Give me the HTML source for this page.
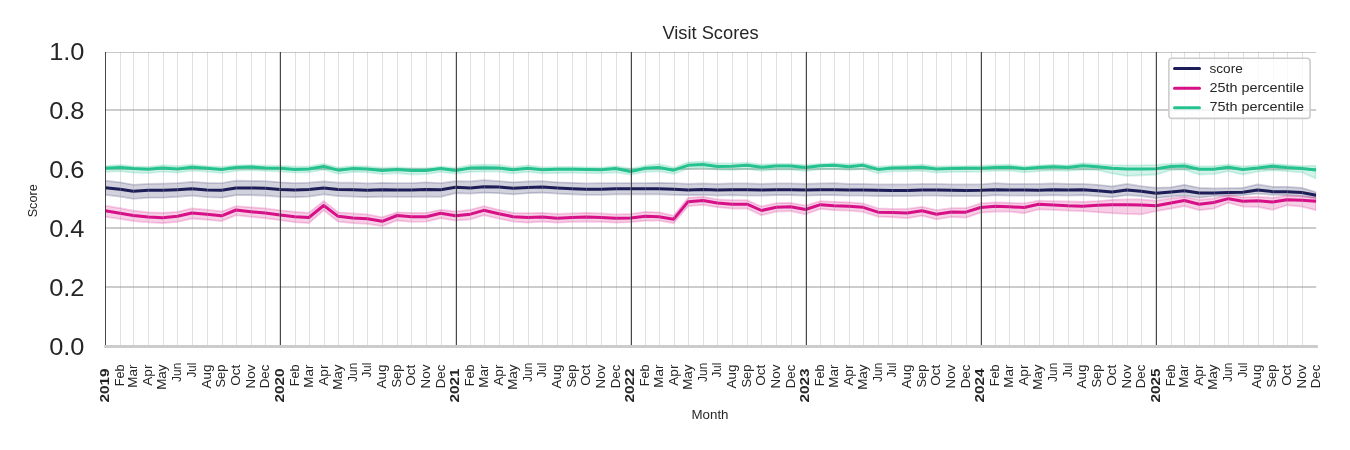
<!DOCTYPE html>
<html><head><meta charset="utf-8"><title>Visit Scores</title>
<style>html,body{margin:0;padding:0;background:#fff;width:1350px;height:450px;overflow:hidden}svg{display:block;will-change:transform}text{font-family:"Liberation Sans",sans-serif;fill:#262626}</style>
</head><body>
<svg width="1350" height="450" viewBox="0 0 1350 450">
<rect width="1350" height="450" fill="#fff"/>
<line x1="105.08" x2="1316.19" y1="287" y2="287" stroke="#cccccc" stroke-width="1.8"/>
<line x1="105.08" x2="1316.19" y1="228" y2="228" stroke="#cccccc" stroke-width="1.8"/>
<line x1="105.08" x2="1316.19" y1="169" y2="169" stroke="#cccccc" stroke-width="1.8"/>
<line x1="105.08" x2="1316.19" y1="110" y2="110" stroke="#cccccc" stroke-width="1.8"/>
<line x1="105.08" x2="1316.19" y1="52.5" y2="52.5" stroke="#c8c8c8" stroke-width="1"/>
<defs><clipPath id="ax"><rect x="105.08" y="51.55" width="1211.11" height="294.4"/></clipPath></defs>
<g clip-path="url(#ax)">
<polygon points="105.08,180.63 119.94,182.3 133.37,184.8 148.23,183.97 162.61,183.63 177.48,183.13 191.86,181.97 206.72,182.8 221.59,183.13 235.97,180.63 250.83,180.97 265.22,181.13 280.08,182.3 294.94,183.13 308.85,182.63 323.71,181.47 338.1,182.63 352.96,182.63 367.34,183.47 382.21,182.8 397.07,183.13 411.45,183.13 426.32,182.3 440.7,183.13 455.56,181.13 470.43,181.47 483.85,180.13 498.71,181.13 513.1,182.3 527.96,181.47 542.34,181.13 557.21,182.3 572.07,182.8 586.45,183.47 601.32,183.13 615.7,183.13 630.56,183.13 645.43,183.13 658.85,182.8 673.71,183.13 688.1,183.97 702.96,183.47 717.35,183.97 732.21,183.47 747.07,183.47 761.46,183.97 776.32,183.47 790.7,183.47 805.57,183.97 820.43,183.47 833.85,183.13 848.72,183.97 863.1,183.97 877.96,184.47 892.35,184.47 907.21,184.47 922.07,183.97 936.46,183.97 951.32,184.47 965.7,184.47 980.57,184.47 995.43,183.13 1009.33,183.97 1024.2,183.97 1038.58,183.97 1053.44,183.47 1067.83,183.97 1082.69,183.97 1097.55,184.8 1111.94,186.47 1126.8,183.97 1141.18,186.13 1156.05,187.8 1170.91,187.3 1184.34,184.8 1199.2,187.8 1213.58,188.47 1228.45,188.13 1242.83,187.8 1257.69,184.47 1272.56,186.8 1286.94,186.8 1301.8,187.8 1316.19,192.3 1316.19,198.53 1301.8,196.03 1286.94,195.2 1272.56,194.87 1257.69,193.53 1242.83,195.2 1228.45,195.53 1213.58,196.03 1199.2,197.7 1184.34,195.53 1170.91,196.53 1156.05,198.2 1141.18,196.03 1126.8,195.2 1111.94,197.2 1097.55,196.03 1082.69,195.2 1067.83,195.53 1053.44,195.2 1038.58,195.53 1024.2,195.53 1009.33,195.53 995.43,195.2 980.57,196.03 965.7,196.03 951.32,196.03 936.46,195.53 922.07,195.53 907.21,196.03 892.35,196.03 877.96,196.03 863.1,195.53 848.72,195.53 833.85,195.2 820.43,195.2 805.57,195.53 790.7,195.2 776.32,195.2 761.46,195.53 747.07,195.53 732.21,195.2 717.35,195.53 702.96,194.87 688.1,195.2 673.71,194.87 658.85,194.37 645.43,194.37 630.56,194.37 615.7,194.37 601.32,194.87 586.45,194.87 572.07,194.37 557.21,193.53 542.34,192.7 527.96,193.2 513.1,194.37 498.71,193.2 483.85,192.7 470.43,193.53 455.56,193.2 440.7,196.87 426.32,196.53 411.45,196.87 397.07,196.87 382.21,196.53 367.34,197.2 352.96,196.53 338.1,196.03 323.71,194.37 308.85,196.53 294.94,197.2 280.08,196.87 265.22,195.53 250.83,195.2 235.97,195.2 221.59,197.7 206.72,197.03 191.86,195.53 177.48,196.87 162.61,197.7 148.23,197.7 133.37,198.87 119.94,196.53 105.08,194.87" fill="#1d1d58" fill-opacity="0.2" stroke="#1d1d58" stroke-opacity="0.2" stroke-width="1.8"/>
<polygon points="105.08,205.63 119.94,208.13 133.37,210.63 148.23,212.3 162.61,212.8 177.48,211.8 191.86,208.47 206.72,209.63 221.59,211.47 235.97,206.13 250.83,207.3 265.22,208.47 280.08,210.3 294.94,211.8 308.85,212.8 323.71,201.13 338.1,212.3 352.96,213.47 367.34,214.47 382.21,217.3 397.07,212.3 411.45,212.8 426.32,212.8 440.7,209.8 455.56,211.47 470.43,209.8 483.85,206.13 498.71,209.8 513.1,212.8 527.96,213.13 542.34,212.8 557.21,213.97 572.07,213.47 586.45,212.8 601.32,213.47 615.7,214.47 630.56,213.97 645.43,211.8 658.85,212.3 673.71,215.63 688.1,197.8 702.96,196.8 717.35,199.47 732.21,200.13 747.07,200.13 761.46,206.47 776.32,203.13 790.7,202.8 805.57,205.63 820.43,201.13 833.85,201.8 848.72,202.3 863.1,203.47 877.96,208.47 892.35,208.97 907.21,208.97 922.07,206.8 936.46,210.13 951.32,208.13 965.7,208.13 980.57,203.47 995.43,202.3 1009.33,202.8 1024.2,203.47 1038.58,200.63 1053.44,201.13 1067.83,201.47 1082.69,201.8 1097.55,201.13 1111.94,199.8 1126.8,199.47 1141.18,199.47 1156.05,200.63 1170.91,198.47 1184.34,196.8 1199.2,199.8 1213.58,198.47 1228.45,195.13 1242.83,197.3 1257.69,196.8 1272.56,197.8 1286.94,195.63 1301.8,196.47 1316.19,197.3 1316.19,210.2 1301.8,206.53 1286.94,205.2 1272.56,209.87 1257.69,206.87 1242.83,206.53 1228.45,202.7 1213.58,208.53 1199.2,210.2 1184.34,206.03 1170.91,208.53 1156.05,211.03 1141.18,214.37 1126.8,213.87 1111.94,213.2 1097.55,212.2 1082.69,211.03 1067.83,210.53 1053.44,209.87 1038.58,209.37 1024.2,213.2 1009.33,211.53 995.43,211.53 980.57,212.7 965.7,217.7 951.32,216.87 936.46,219.37 922.07,215.7 907.21,218.2 892.35,217.2 877.96,216.53 863.1,211.87 848.72,210.53 833.85,210.2 820.43,208.87 805.57,214.37 790.7,211.03 776.32,211.53 761.46,215.2 747.07,208.53 732.21,208.53 717.35,207.2 702.96,204.87 688.1,206.03 673.71,223.2 658.85,220.53 645.43,220.7 630.56,222.2 615.7,222.7 601.32,221.87 586.45,221.53 572.07,221.87 557.21,222.7 542.34,221.53 527.96,222.7 513.1,221.53 498.71,218.53 483.85,215.2 470.43,219.37 455.56,220.53 440.7,218.2 426.32,221.53 411.45,221.87 397.07,220.53 382.21,226.03 367.34,223.87 352.96,223.2 338.1,221.53 323.71,210.2 308.85,223.2 294.94,222.2 280.08,220.2 265.22,218.2 250.83,216.87 235.97,215.2 221.59,221.03 206.72,219.7 191.86,218.53 177.48,221.87 162.61,223.2 148.23,222.37 133.37,221.03 119.94,218.87 105.08,216.87" fill="#d81087" fill-opacity="0.2" stroke="#d81087" stroke-opacity="0.2" stroke-width="1.8"/>
<polygon points="105.08,166.07 119.94,164.96 133.37,166.44 148.23,166.81 162.61,165.33 177.48,166.07 191.86,164.74 206.72,166.07 221.59,166.81 235.97,165.33 250.83,164.96 265.22,165.7 280.08,165.7 294.94,166.77 308.85,166.4 323.71,163.81 338.1,167.51 352.96,166.03 367.34,166.4 382.21,167.89 397.07,167.14 411.45,168.26 426.32,168.26 440.7,166.4 455.56,167.89 470.43,165.14 483.85,164.55 498.71,164.92 513.1,167.14 527.96,165.29 542.34,167.14 557.21,167 572.07,166.81 586.45,167.18 601.32,167.55 615.7,166.07 630.56,168.66 645.43,165.66 658.85,164.18 673.71,167.51 688.1,162.33 702.96,161.59 717.35,163.44 732.21,163.44 747.07,162.7 761.46,164.55 776.32,163.81 790.7,163.81 805.57,164.92 820.43,163.81 833.85,163.22 848.72,164.18 863.1,163.07 877.96,166.77 892.35,165.66 907.21,165.29 922.07,164.55 936.46,166.4 951.32,166.03 965.7,166.03 980.57,165.66 995.43,164.92 1009.33,164.7 1024.2,166.4 1038.58,165.29 1053.44,164.55 1067.83,165.29 1082.69,163.07 1097.55,164.18 1111.94,165.29 1126.8,165.29 1141.18,165.29 1156.05,164.92 1170.91,163.81 1184.34,163.22 1199.2,166.4 1213.58,166.03 1228.45,164.55 1242.83,166.4 1257.69,165.29 1272.56,163.81 1286.94,164.92 1301.8,166.03 1316.19,165.66 1316.19,178.57 1301.8,172.27 1286.94,171.16 1272.56,170.27 1257.69,171.53 1242.83,174.49 1228.45,171.16 1213.58,174.12 1199.2,174.49 1184.34,169.53 1170.91,170.05 1156.05,174.49 1141.18,175.23 1126.8,175.97 1111.94,173.38 1097.55,170.05 1082.69,169.68 1067.83,170.79 1053.44,170.42 1038.58,171.16 1024.2,172.27 1009.33,170.57 995.43,170.79 980.57,171.53 965.7,171.9 951.32,171.9 936.46,172.64 922.07,170.79 907.21,171.31 892.35,171.31 877.96,173.01 863.1,168.94 848.72,170.05 833.85,168.79 820.43,169.31 805.57,171.16 790.7,169.68 776.32,169.68 761.46,170.79 747.07,168.94 732.21,170.05 717.35,169.68 702.96,167.83 688.1,168.57 673.71,173.75 658.85,171.31 645.43,171.9 630.56,174.53 615.7,172.31 601.32,173.42 586.45,173.05 572.07,172.68 557.21,173.01 542.34,173.38 527.96,171.75 513.1,173.38 498.71,171.53 483.85,171.53 470.43,171.9 455.56,173.75 440.7,171.9 426.32,174.12 411.45,174.49 397.07,173.01 382.21,174.12 367.34,172.27 352.96,171.9 338.1,173.75 323.71,169.68 308.85,172.27 294.94,172.64 280.08,171.57 265.22,170.83 250.83,170.09 235.97,170.83 221.59,173.05 206.72,171.57 191.86,170.6 177.48,172.68 162.61,171.57 148.23,173.05 133.37,172.68 119.94,171.2 105.08,171.94" fill="#23c28f" fill-opacity="0.2" stroke="#23c28f" stroke-opacity="0.2" stroke-width="1.8"/>
<polyline points="105.08,187.83 119.94,189.17 133.37,191.17 148.23,190.33 162.61,190.33 177.48,189.67 191.86,188.83 206.72,190 221.59,190.33 235.97,188 250.83,188 265.22,188.33 280.08,189.5 294.94,190 308.85,189.5 323.71,188 338.1,189.5 352.96,189.67 367.34,190.33 382.21,189.67 397.07,190 411.45,190 426.32,189.5 440.7,189.67 455.56,187.17 470.43,188 483.85,186.67 498.71,187 513.1,188.33 527.96,187.5 542.34,187 557.21,188 572.07,188.67 586.45,189.17 601.32,189.17 615.7,188.83 630.56,188.67 645.43,188.67 658.85,188.67 673.71,189.17 688.1,190 702.96,189.5 717.35,190 732.21,189.67 747.07,189.67 761.46,190 776.32,189.67 790.7,189.67 805.57,190 820.43,189.67 833.85,189.67 848.72,190 863.1,190 877.96,190.33 892.35,190.5 907.21,190.5 922.07,190 936.46,190 951.32,190.33 965.7,190.5 980.57,190.33 995.43,189.67 1009.33,190 1024.2,190 1038.58,190.33 1053.44,189.67 1067.83,190 1082.69,189.67 1097.55,190.83 1111.94,192 1126.8,190 1141.18,191.33 1156.05,193.33 1170.91,192 1184.34,190.83 1199.2,193 1213.58,193 1228.45,192.5 1242.83,192.17 1257.69,190 1272.56,191.67 1286.94,191.67 1301.8,192.5 1316.19,195.33" fill="none" stroke="#1d1d58" stroke-width="3" stroke-linejoin="round" stroke-linecap="butt"/>
<polyline points="105.08,210.83 119.94,213.33 133.37,215.5 148.23,217 162.61,217.83 177.48,216.33 191.86,213 206.72,214.33 221.59,215.83 235.97,210 250.83,211.67 265.22,213 280.08,215 294.94,216.67 308.85,217.5 323.71,205.5 338.1,216.33 352.96,218 367.34,218.67 382.21,221.33 397.07,215.5 411.45,216.67 426.32,216.67 440.7,213.33 455.56,215.83 470.43,214.17 483.85,210.33 498.71,213.67 513.1,216.67 527.96,217.5 542.34,217 557.21,218.33 572.07,217.5 586.45,217 601.32,217.5 615.7,218.33 630.56,218 645.43,216.33 658.85,216.67 673.71,219.17 688.1,201.67 702.96,200.5 717.35,203 732.21,204.17 747.07,204.17 761.46,210.5 776.32,207.17 790.7,206.67 805.57,209.5 820.43,204.67 833.85,205.83 848.72,206.17 863.1,207.33 877.96,212.17 892.35,212.5 907.21,213 922.07,210.83 936.46,214.17 951.32,212 965.7,212.17 980.57,207.5 995.43,206.33 1009.33,206.67 1024.2,207.5 1038.58,204.17 1053.44,205 1067.83,205.83 1082.69,206.17 1097.55,205.33 1111.94,204.67 1126.8,204.67 1141.18,205 1156.05,205.83 1170.91,203 1184.34,200.5 1199.2,204.17 1213.58,202.5 1228.45,198.67 1242.83,201.33 1257.69,200.83 1272.56,202 1286.94,199.67 1301.8,200.33 1316.19,201.33" fill="none" stroke="#d81087" stroke-width="3" stroke-linejoin="round" stroke-linecap="butt"/>
<polyline points="105.08,168.33 119.94,167.44 133.37,168.56 148.23,169.22 162.61,167.96 177.48,168.93 191.86,167.22 206.72,168.33 221.59,169.44 235.97,167.59 250.83,167 265.22,167.96 280.08,168.19 294.94,169.41 308.85,169.04 323.71,166.44 338.1,170.15 352.96,168.44 367.34,169.04 382.21,170.52 397.07,169.41 411.45,170.52 426.32,170.52 440.7,168.44 455.56,170.52 470.43,168 483.85,167.7 498.71,167.93 513.1,169.78 527.96,168.15 542.34,169.7 557.21,169.33 572.07,169.22 586.45,169.44 601.32,169.81 615.7,168.48 630.56,171.44 645.43,168.3 658.85,167.41 673.71,170.15 688.1,165.33 702.96,164.44 717.35,166.44 732.21,166.22 747.07,165.33 761.46,167.19 776.32,166.07 790.7,166.07 805.57,167.41 820.43,165.7 833.85,165.33 848.72,166.67 863.1,165.33 877.96,169.41 892.35,167.93 907.21,167.7 922.07,167.19 936.46,169.04 951.32,168.44 965.7,168.3 980.57,168.15 995.43,167.41 1009.33,167.19 1024.2,168.67 1038.58,167.56 1053.44,166.81 1067.83,167.56 1082.69,165.7 1097.55,166.81 1111.94,168.3 1126.8,169.04 1141.18,169.04 1156.05,168.67 1170.91,166.44 1184.34,165.93 1199.2,169.19 1213.58,169.19 1228.45,167.19 1242.83,169.41 1257.69,168 1272.56,166.22 1286.94,167.56 1301.8,168.44 1316.19,169.93" fill="none" stroke="#23c28f" stroke-width="3" stroke-linejoin="round" stroke-linecap="butt"/>
</g>
<line x1="120.5" x2="120.5" y1="52" y2="345" stroke="#999" stroke-opacity="0.3" stroke-width="1"/>
<line x1="133.5" x2="133.5" y1="52" y2="345" stroke="#999" stroke-opacity="0.3" stroke-width="1"/>
<line x1="148.5" x2="148.5" y1="52" y2="345" stroke="#999" stroke-opacity="0.3" stroke-width="1"/>
<line x1="163.5" x2="163.5" y1="52" y2="345" stroke="#999" stroke-opacity="0.3" stroke-width="1"/>
<line x1="177.5" x2="177.5" y1="52" y2="345" stroke="#999" stroke-opacity="0.3" stroke-width="1"/>
<line x1="192.5" x2="192.5" y1="52" y2="345" stroke="#999" stroke-opacity="0.3" stroke-width="1"/>
<line x1="207.5" x2="207.5" y1="52" y2="345" stroke="#999" stroke-opacity="0.3" stroke-width="1"/>
<line x1="222.5" x2="222.5" y1="52" y2="345" stroke="#999" stroke-opacity="0.3" stroke-width="1"/>
<line x1="236.5" x2="236.5" y1="52" y2="345" stroke="#999" stroke-opacity="0.3" stroke-width="1"/>
<line x1="251.5" x2="251.5" y1="52" y2="345" stroke="#999" stroke-opacity="0.3" stroke-width="1"/>
<line x1="265.5" x2="265.5" y1="52" y2="345" stroke="#999" stroke-opacity="0.3" stroke-width="1"/>
<line x1="295.5" x2="295.5" y1="52" y2="345" stroke="#999" stroke-opacity="0.3" stroke-width="1"/>
<line x1="309.5" x2="309.5" y1="52" y2="345" stroke="#999" stroke-opacity="0.3" stroke-width="1"/>
<line x1="324.5" x2="324.5" y1="52" y2="345" stroke="#999" stroke-opacity="0.3" stroke-width="1"/>
<line x1="338.5" x2="338.5" y1="52" y2="345" stroke="#999" stroke-opacity="0.3" stroke-width="1"/>
<line x1="353.5" x2="353.5" y1="52" y2="345" stroke="#999" stroke-opacity="0.3" stroke-width="1"/>
<line x1="367.5" x2="367.5" y1="52" y2="345" stroke="#999" stroke-opacity="0.3" stroke-width="1"/>
<line x1="382.5" x2="382.5" y1="52" y2="345" stroke="#999" stroke-opacity="0.3" stroke-width="1"/>
<line x1="397.5" x2="397.5" y1="52" y2="345" stroke="#999" stroke-opacity="0.3" stroke-width="1"/>
<line x1="411.5" x2="411.5" y1="52" y2="345" stroke="#999" stroke-opacity="0.3" stroke-width="1"/>
<line x1="426.5" x2="426.5" y1="52" y2="345" stroke="#999" stroke-opacity="0.3" stroke-width="1"/>
<line x1="441.5" x2="441.5" y1="52" y2="345" stroke="#999" stroke-opacity="0.3" stroke-width="1"/>
<line x1="470.5" x2="470.5" y1="52" y2="345" stroke="#999" stroke-opacity="0.3" stroke-width="1"/>
<line x1="484.5" x2="484.5" y1="52" y2="345" stroke="#999" stroke-opacity="0.3" stroke-width="1"/>
<line x1="499.5" x2="499.5" y1="52" y2="345" stroke="#999" stroke-opacity="0.3" stroke-width="1"/>
<line x1="513.5" x2="513.5" y1="52" y2="345" stroke="#999" stroke-opacity="0.3" stroke-width="1"/>
<line x1="528.5" x2="528.5" y1="52" y2="345" stroke="#999" stroke-opacity="0.3" stroke-width="1"/>
<line x1="542.5" x2="542.5" y1="52" y2="345" stroke="#999" stroke-opacity="0.3" stroke-width="1"/>
<line x1="557.5" x2="557.5" y1="52" y2="345" stroke="#999" stroke-opacity="0.3" stroke-width="1"/>
<line x1="572.5" x2="572.5" y1="52" y2="345" stroke="#999" stroke-opacity="0.3" stroke-width="1"/>
<line x1="586.5" x2="586.5" y1="52" y2="345" stroke="#999" stroke-opacity="0.3" stroke-width="1"/>
<line x1="601.5" x2="601.5" y1="52" y2="345" stroke="#999" stroke-opacity="0.3" stroke-width="1"/>
<line x1="616.5" x2="616.5" y1="52" y2="345" stroke="#999" stroke-opacity="0.3" stroke-width="1"/>
<line x1="645.5" x2="645.5" y1="52" y2="345" stroke="#999" stroke-opacity="0.3" stroke-width="1"/>
<line x1="659.5" x2="659.5" y1="52" y2="345" stroke="#999" stroke-opacity="0.3" stroke-width="1"/>
<line x1="674.5" x2="674.5" y1="52" y2="345" stroke="#999" stroke-opacity="0.3" stroke-width="1"/>
<line x1="688.5" x2="688.5" y1="52" y2="345" stroke="#999" stroke-opacity="0.3" stroke-width="1"/>
<line x1="703.5" x2="703.5" y1="52" y2="345" stroke="#999" stroke-opacity="0.3" stroke-width="1"/>
<line x1="717.5" x2="717.5" y1="52" y2="345" stroke="#999" stroke-opacity="0.3" stroke-width="1"/>
<line x1="732.5" x2="732.5" y1="52" y2="345" stroke="#999" stroke-opacity="0.3" stroke-width="1"/>
<line x1="747.5" x2="747.5" y1="52" y2="345" stroke="#999" stroke-opacity="0.3" stroke-width="1"/>
<line x1="761.5" x2="761.5" y1="52" y2="345" stroke="#999" stroke-opacity="0.3" stroke-width="1"/>
<line x1="776.5" x2="776.5" y1="52" y2="345" stroke="#999" stroke-opacity="0.3" stroke-width="1"/>
<line x1="791.5" x2="791.5" y1="52" y2="345" stroke="#999" stroke-opacity="0.3" stroke-width="1"/>
<line x1="820.5" x2="820.5" y1="52" y2="345" stroke="#999" stroke-opacity="0.3" stroke-width="1"/>
<line x1="834.5" x2="834.5" y1="52" y2="345" stroke="#999" stroke-opacity="0.3" stroke-width="1"/>
<line x1="849.5" x2="849.5" y1="52" y2="345" stroke="#999" stroke-opacity="0.3" stroke-width="1"/>
<line x1="863.5" x2="863.5" y1="52" y2="345" stroke="#999" stroke-opacity="0.3" stroke-width="1"/>
<line x1="878.5" x2="878.5" y1="52" y2="345" stroke="#999" stroke-opacity="0.3" stroke-width="1"/>
<line x1="892.5" x2="892.5" y1="52" y2="345" stroke="#999" stroke-opacity="0.3" stroke-width="1"/>
<line x1="907.5" x2="907.5" y1="52" y2="345" stroke="#999" stroke-opacity="0.3" stroke-width="1"/>
<line x1="922.5" x2="922.5" y1="52" y2="345" stroke="#999" stroke-opacity="0.3" stroke-width="1"/>
<line x1="936.5" x2="936.5" y1="52" y2="345" stroke="#999" stroke-opacity="0.3" stroke-width="1"/>
<line x1="951.5" x2="951.5" y1="52" y2="345" stroke="#999" stroke-opacity="0.3" stroke-width="1"/>
<line x1="966.5" x2="966.5" y1="52" y2="345" stroke="#999" stroke-opacity="0.3" stroke-width="1"/>
<line x1="995.5" x2="995.5" y1="52" y2="345" stroke="#999" stroke-opacity="0.3" stroke-width="1"/>
<line x1="1009.5" x2="1009.5" y1="52" y2="345" stroke="#999" stroke-opacity="0.3" stroke-width="1"/>
<line x1="1024.5" x2="1024.5" y1="52" y2="345" stroke="#999" stroke-opacity="0.3" stroke-width="1"/>
<line x1="1039.5" x2="1039.5" y1="52" y2="345" stroke="#999" stroke-opacity="0.3" stroke-width="1"/>
<line x1="1053.5" x2="1053.5" y1="52" y2="345" stroke="#999" stroke-opacity="0.3" stroke-width="1"/>
<line x1="1068.5" x2="1068.5" y1="52" y2="345" stroke="#999" stroke-opacity="0.3" stroke-width="1"/>
<line x1="1083.5" x2="1083.5" y1="52" y2="345" stroke="#999" stroke-opacity="0.3" stroke-width="1"/>
<line x1="1098.5" x2="1098.5" y1="52" y2="345" stroke="#999" stroke-opacity="0.3" stroke-width="1"/>
<line x1="1112.5" x2="1112.5" y1="52" y2="345" stroke="#999" stroke-opacity="0.3" stroke-width="1"/>
<line x1="1127.5" x2="1127.5" y1="52" y2="345" stroke="#999" stroke-opacity="0.3" stroke-width="1"/>
<line x1="1141.5" x2="1141.5" y1="52" y2="345" stroke="#999" stroke-opacity="0.3" stroke-width="1"/>
<line x1="1171.5" x2="1171.5" y1="52" y2="345" stroke="#999" stroke-opacity="0.3" stroke-width="1"/>
<line x1="1184.5" x2="1184.5" y1="52" y2="345" stroke="#999" stroke-opacity="0.3" stroke-width="1"/>
<line x1="1199.5" x2="1199.5" y1="52" y2="345" stroke="#999" stroke-opacity="0.3" stroke-width="1"/>
<line x1="1214.5" x2="1214.5" y1="52" y2="345" stroke="#999" stroke-opacity="0.3" stroke-width="1"/>
<line x1="1228.5" x2="1228.5" y1="52" y2="345" stroke="#999" stroke-opacity="0.3" stroke-width="1"/>
<line x1="1243.5" x2="1243.5" y1="52" y2="345" stroke="#999" stroke-opacity="0.3" stroke-width="1"/>
<line x1="1258.5" x2="1258.5" y1="52" y2="345" stroke="#999" stroke-opacity="0.3" stroke-width="1"/>
<line x1="1273.5" x2="1273.5" y1="52" y2="345" stroke="#999" stroke-opacity="0.3" stroke-width="1"/>
<line x1="1287.5" x2="1287.5" y1="52" y2="345" stroke="#999" stroke-opacity="0.3" stroke-width="1"/>
<line x1="1302.5" x2="1302.5" y1="52" y2="345" stroke="#999" stroke-opacity="0.3" stroke-width="1"/>
<line x1="279.5" x2="279.5" y1="52" y2="345" stroke="#999" stroke-opacity="0.4" stroke-width="1"/>
<line x1="455.5" x2="455.5" y1="52" y2="345" stroke="#999" stroke-opacity="0.4" stroke-width="1"/>
<line x1="630.5" x2="630.5" y1="52" y2="345" stroke="#999" stroke-opacity="0.4" stroke-width="1"/>
<line x1="805.5" x2="805.5" y1="52" y2="345" stroke="#999" stroke-opacity="0.4" stroke-width="1"/>
<line x1="980.5" x2="980.5" y1="52" y2="345" stroke="#999" stroke-opacity="0.4" stroke-width="1"/>
<line x1="1155.5" x2="1155.5" y1="52" y2="345" stroke="#999" stroke-opacity="0.4" stroke-width="1"/>
<line x1="105.5" x2="105.5" y1="52" y2="345" stroke="#333" stroke-opacity="0.9" stroke-width="1"/>
<line x1="280.5" x2="280.5" y1="52" y2="345" stroke="#333" stroke-opacity="0.9" stroke-width="1"/>
<line x1="456.5" x2="456.5" y1="52" y2="345" stroke="#333" stroke-opacity="0.9" stroke-width="1"/>
<line x1="631.5" x2="631.5" y1="52" y2="345" stroke="#333" stroke-opacity="0.9" stroke-width="1"/>
<line x1="806.5" x2="806.5" y1="52" y2="345" stroke="#333" stroke-opacity="0.9" stroke-width="1"/>
<line x1="981.5" x2="981.5" y1="52" y2="345" stroke="#333" stroke-opacity="0.9" stroke-width="1"/>
<line x1="1156.5" x2="1156.5" y1="52" y2="345" stroke="#333" stroke-opacity="0.9" stroke-width="1"/>
<line x1="104.2" x2="1317.9" y1="346.5" y2="346.5" stroke="#cccccc" stroke-width="3"/>
<rect x="1168.9" y="58.2" width="141.2" height="60.2" rx="3" ry="3" fill="#fff" fill-opacity="0.8" stroke="#cccccc" stroke-width="1.6"/>
<line x1="1174.5" x2="1199.5" y1="68.5" y2="68.5" stroke="#1d1d58" stroke-width="3" stroke-linecap="round"/>
<text x="1209.5" y="73.2" font-size="13.14" textLength="33.32" lengthAdjust="spacingAndGlyphs">score</text>
<line x1="1174.5" x2="1199.5" y1="88.3" y2="88.3" stroke="#d81087" stroke-width="3" stroke-linecap="round"/>
<text x="1209.5" y="92.0" font-size="13.14" textLength="94.46" lengthAdjust="spacingAndGlyphs">25th percentile</text>
<line x1="1174.5" x2="1199.5" y1="107.7" y2="107.7" stroke="#23c28f" stroke-width="3" stroke-linecap="round"/>
<text x="1209.5" y="111.4" font-size="13.14" textLength="94.46" lengthAdjust="spacingAndGlyphs">75th percentile</text>
<text x="710.5" y="38.7" text-anchor="middle" font-size="17.67" textLength="96.20" lengthAdjust="spacingAndGlyphs">Visit Scores</text>
<text x="84.5" y="355" text-anchor="end" font-size="23.53" textLength="35.31" lengthAdjust="spacingAndGlyphs">0.0</text>
<text x="84.5" y="296" text-anchor="end" font-size="23.53" textLength="35.31" lengthAdjust="spacingAndGlyphs">0.2</text>
<text x="84.5" y="237" text-anchor="end" font-size="23.53" textLength="35.31" lengthAdjust="spacingAndGlyphs">0.4</text>
<text x="84.5" y="178" text-anchor="end" font-size="23.53" textLength="35.31" lengthAdjust="spacingAndGlyphs">0.6</text>
<text x="84.5" y="119" text-anchor="end" font-size="23.53" textLength="35.31" lengthAdjust="spacingAndGlyphs">0.8</text>
<text x="84.5" y="60" text-anchor="end" font-size="23.53" textLength="35.31" lengthAdjust="spacingAndGlyphs">1.0</text>
<text transform="translate(36.8,200.8) rotate(-90)" text-anchor="middle" font-size="12.51" textLength="33.05" lengthAdjust="spacingAndGlyphs">Score</text>
<text x="710" y="419" text-anchor="middle" font-size="12.51" textLength="36.99" lengthAdjust="spacingAndGlyphs">Month</text>
<text transform="translate(108.88,368.4) rotate(-90)" text-anchor="end" font-size="12.95" font-weight="bold" textLength="34.01" lengthAdjust="spacingAndGlyphs">2019</text>
<text transform="translate(123.74,364.6) rotate(-90)" text-anchor="end" font-size="12.95" textLength="21.64" lengthAdjust="spacingAndGlyphs">Feb</text>
<text transform="translate(137.17,364.6) rotate(-90)" text-anchor="end" font-size="12.95" textLength="23.06" lengthAdjust="spacingAndGlyphs">Mar</text>
<text transform="translate(152.03,364.6) rotate(-90)" text-anchor="end" font-size="12.95" textLength="21.14" lengthAdjust="spacingAndGlyphs">Apr</text>
<text transform="translate(166.41,364.6) rotate(-90)" text-anchor="end" font-size="12.95" textLength="25.26" lengthAdjust="spacingAndGlyphs">May</text>
<text transform="translate(181.28,362.8) rotate(-90)" text-anchor="end" font-size="12.95" textLength="19.09" lengthAdjust="spacingAndGlyphs">Jun</text>
<text transform="translate(195.66,362.8) rotate(-90)" text-anchor="end" font-size="12.95" textLength="14.74" lengthAdjust="spacingAndGlyphs">Jul</text>
<text transform="translate(210.52,364.6) rotate(-90)" text-anchor="end" font-size="12.95" textLength="23.86" lengthAdjust="spacingAndGlyphs">Aug</text>
<text transform="translate(225.39,364.6) rotate(-90)" text-anchor="end" font-size="12.95" textLength="23.03" lengthAdjust="spacingAndGlyphs">Sep</text>
<text transform="translate(239.77,364.6) rotate(-90)" text-anchor="end" font-size="12.95" textLength="21.13" lengthAdjust="spacingAndGlyphs">Oct</text>
<text transform="translate(254.63,364.6) rotate(-90)" text-anchor="end" font-size="12.95" textLength="23.85" lengthAdjust="spacingAndGlyphs">Nov</text>
<text transform="translate(269.02,364.6) rotate(-90)" text-anchor="end" font-size="12.95" textLength="23.65" lengthAdjust="spacingAndGlyphs">Dec</text>
<text transform="translate(283.88,368.4) rotate(-90)" text-anchor="end" font-size="12.95" font-weight="bold" textLength="34.01" lengthAdjust="spacingAndGlyphs">2020</text>
<text transform="translate(298.74,364.6) rotate(-90)" text-anchor="end" font-size="12.95" textLength="21.64" lengthAdjust="spacingAndGlyphs">Feb</text>
<text transform="translate(312.65,364.6) rotate(-90)" text-anchor="end" font-size="12.95" textLength="23.06" lengthAdjust="spacingAndGlyphs">Mar</text>
<text transform="translate(327.51,364.6) rotate(-90)" text-anchor="end" font-size="12.95" textLength="21.14" lengthAdjust="spacingAndGlyphs">Apr</text>
<text transform="translate(341.9,364.6) rotate(-90)" text-anchor="end" font-size="12.95" textLength="25.26" lengthAdjust="spacingAndGlyphs">May</text>
<text transform="translate(356.76,362.8) rotate(-90)" text-anchor="end" font-size="12.95" textLength="19.09" lengthAdjust="spacingAndGlyphs">Jun</text>
<text transform="translate(371.14,362.8) rotate(-90)" text-anchor="end" font-size="12.95" textLength="14.74" lengthAdjust="spacingAndGlyphs">Jul</text>
<text transform="translate(386.01,364.6) rotate(-90)" text-anchor="end" font-size="12.95" textLength="23.86" lengthAdjust="spacingAndGlyphs">Aug</text>
<text transform="translate(400.87,364.6) rotate(-90)" text-anchor="end" font-size="12.95" textLength="23.03" lengthAdjust="spacingAndGlyphs">Sep</text>
<text transform="translate(415.25,364.6) rotate(-90)" text-anchor="end" font-size="12.95" textLength="21.13" lengthAdjust="spacingAndGlyphs">Oct</text>
<text transform="translate(430.12,364.6) rotate(-90)" text-anchor="end" font-size="12.95" textLength="23.85" lengthAdjust="spacingAndGlyphs">Nov</text>
<text transform="translate(444.5,364.6) rotate(-90)" text-anchor="end" font-size="12.95" textLength="23.65" lengthAdjust="spacingAndGlyphs">Dec</text>
<text transform="translate(459.36,368.4) rotate(-90)" text-anchor="end" font-size="12.95" font-weight="bold" textLength="34.01" lengthAdjust="spacingAndGlyphs">2021</text>
<text transform="translate(474.23,364.6) rotate(-90)" text-anchor="end" font-size="12.95" textLength="21.64" lengthAdjust="spacingAndGlyphs">Feb</text>
<text transform="translate(487.65,364.6) rotate(-90)" text-anchor="end" font-size="12.95" textLength="23.06" lengthAdjust="spacingAndGlyphs">Mar</text>
<text transform="translate(502.51,364.6) rotate(-90)" text-anchor="end" font-size="12.95" textLength="21.14" lengthAdjust="spacingAndGlyphs">Apr</text>
<text transform="translate(516.9,364.6) rotate(-90)" text-anchor="end" font-size="12.95" textLength="25.26" lengthAdjust="spacingAndGlyphs">May</text>
<text transform="translate(531.76,362.8) rotate(-90)" text-anchor="end" font-size="12.95" textLength="19.09" lengthAdjust="spacingAndGlyphs">Jun</text>
<text transform="translate(546.14,362.8) rotate(-90)" text-anchor="end" font-size="12.95" textLength="14.74" lengthAdjust="spacingAndGlyphs">Jul</text>
<text transform="translate(561.01,364.6) rotate(-90)" text-anchor="end" font-size="12.95" textLength="23.86" lengthAdjust="spacingAndGlyphs">Aug</text>
<text transform="translate(575.87,364.6) rotate(-90)" text-anchor="end" font-size="12.95" textLength="23.03" lengthAdjust="spacingAndGlyphs">Sep</text>
<text transform="translate(590.25,364.6) rotate(-90)" text-anchor="end" font-size="12.95" textLength="21.13" lengthAdjust="spacingAndGlyphs">Oct</text>
<text transform="translate(605.12,364.6) rotate(-90)" text-anchor="end" font-size="12.95" textLength="23.85" lengthAdjust="spacingAndGlyphs">Nov</text>
<text transform="translate(619.5,364.6) rotate(-90)" text-anchor="end" font-size="12.95" textLength="23.65" lengthAdjust="spacingAndGlyphs">Dec</text>
<text transform="translate(634.36,368.4) rotate(-90)" text-anchor="end" font-size="12.95" font-weight="bold" textLength="34.01" lengthAdjust="spacingAndGlyphs">2022</text>
<text transform="translate(649.23,364.6) rotate(-90)" text-anchor="end" font-size="12.95" textLength="21.64" lengthAdjust="spacingAndGlyphs">Feb</text>
<text transform="translate(662.65,364.6) rotate(-90)" text-anchor="end" font-size="12.95" textLength="23.06" lengthAdjust="spacingAndGlyphs">Mar</text>
<text transform="translate(677.51,364.6) rotate(-90)" text-anchor="end" font-size="12.95" textLength="21.14" lengthAdjust="spacingAndGlyphs">Apr</text>
<text transform="translate(691.9,364.6) rotate(-90)" text-anchor="end" font-size="12.95" textLength="25.26" lengthAdjust="spacingAndGlyphs">May</text>
<text transform="translate(706.76,362.8) rotate(-90)" text-anchor="end" font-size="12.95" textLength="19.09" lengthAdjust="spacingAndGlyphs">Jun</text>
<text transform="translate(721.15,362.8) rotate(-90)" text-anchor="end" font-size="12.95" textLength="14.74" lengthAdjust="spacingAndGlyphs">Jul</text>
<text transform="translate(736.01,364.6) rotate(-90)" text-anchor="end" font-size="12.95" textLength="23.86" lengthAdjust="spacingAndGlyphs">Aug</text>
<text transform="translate(750.87,364.6) rotate(-90)" text-anchor="end" font-size="12.95" textLength="23.03" lengthAdjust="spacingAndGlyphs">Sep</text>
<text transform="translate(765.26,364.6) rotate(-90)" text-anchor="end" font-size="12.95" textLength="21.13" lengthAdjust="spacingAndGlyphs">Oct</text>
<text transform="translate(780.12,364.6) rotate(-90)" text-anchor="end" font-size="12.95" textLength="23.85" lengthAdjust="spacingAndGlyphs">Nov</text>
<text transform="translate(794.5,364.6) rotate(-90)" text-anchor="end" font-size="12.95" textLength="23.65" lengthAdjust="spacingAndGlyphs">Dec</text>
<text transform="translate(809.37,368.4) rotate(-90)" text-anchor="end" font-size="12.95" font-weight="bold" textLength="34.01" lengthAdjust="spacingAndGlyphs">2023</text>
<text transform="translate(824.23,364.6) rotate(-90)" text-anchor="end" font-size="12.95" textLength="21.64" lengthAdjust="spacingAndGlyphs">Feb</text>
<text transform="translate(837.65,364.6) rotate(-90)" text-anchor="end" font-size="12.95" textLength="23.06" lengthAdjust="spacingAndGlyphs">Mar</text>
<text transform="translate(852.52,364.6) rotate(-90)" text-anchor="end" font-size="12.95" textLength="21.14" lengthAdjust="spacingAndGlyphs">Apr</text>
<text transform="translate(866.9,364.6) rotate(-90)" text-anchor="end" font-size="12.95" textLength="25.26" lengthAdjust="spacingAndGlyphs">May</text>
<text transform="translate(881.76,362.8) rotate(-90)" text-anchor="end" font-size="12.95" textLength="19.09" lengthAdjust="spacingAndGlyphs">Jun</text>
<text transform="translate(896.15,362.8) rotate(-90)" text-anchor="end" font-size="12.95" textLength="14.74" lengthAdjust="spacingAndGlyphs">Jul</text>
<text transform="translate(911.01,364.6) rotate(-90)" text-anchor="end" font-size="12.95" textLength="23.86" lengthAdjust="spacingAndGlyphs">Aug</text>
<text transform="translate(925.87,364.6) rotate(-90)" text-anchor="end" font-size="12.95" textLength="23.03" lengthAdjust="spacingAndGlyphs">Sep</text>
<text transform="translate(940.26,364.6) rotate(-90)" text-anchor="end" font-size="12.95" textLength="21.13" lengthAdjust="spacingAndGlyphs">Oct</text>
<text transform="translate(955.12,364.6) rotate(-90)" text-anchor="end" font-size="12.95" textLength="23.85" lengthAdjust="spacingAndGlyphs">Nov</text>
<text transform="translate(969.5,364.6) rotate(-90)" text-anchor="end" font-size="12.95" textLength="23.65" lengthAdjust="spacingAndGlyphs">Dec</text>
<text transform="translate(984.37,368.4) rotate(-90)" text-anchor="end" font-size="12.95" font-weight="bold" textLength="34.01" lengthAdjust="spacingAndGlyphs">2024</text>
<text transform="translate(999.23,364.6) rotate(-90)" text-anchor="end" font-size="12.95" textLength="21.64" lengthAdjust="spacingAndGlyphs">Feb</text>
<text transform="translate(1013.13,364.6) rotate(-90)" text-anchor="end" font-size="12.95" textLength="23.06" lengthAdjust="spacingAndGlyphs">Mar</text>
<text transform="translate(1028,364.6) rotate(-90)" text-anchor="end" font-size="12.95" textLength="21.14" lengthAdjust="spacingAndGlyphs">Apr</text>
<text transform="translate(1042.38,364.6) rotate(-90)" text-anchor="end" font-size="12.95" textLength="25.26" lengthAdjust="spacingAndGlyphs">May</text>
<text transform="translate(1057.24,362.8) rotate(-90)" text-anchor="end" font-size="12.95" textLength="19.09" lengthAdjust="spacingAndGlyphs">Jun</text>
<text transform="translate(1071.63,362.8) rotate(-90)" text-anchor="end" font-size="12.95" textLength="14.74" lengthAdjust="spacingAndGlyphs">Jul</text>
<text transform="translate(1086.49,364.6) rotate(-90)" text-anchor="end" font-size="12.95" textLength="23.86" lengthAdjust="spacingAndGlyphs">Aug</text>
<text transform="translate(1101.35,364.6) rotate(-90)" text-anchor="end" font-size="12.95" textLength="23.03" lengthAdjust="spacingAndGlyphs">Sep</text>
<text transform="translate(1115.74,364.6) rotate(-90)" text-anchor="end" font-size="12.95" textLength="21.13" lengthAdjust="spacingAndGlyphs">Oct</text>
<text transform="translate(1130.6,364.6) rotate(-90)" text-anchor="end" font-size="12.95" textLength="23.85" lengthAdjust="spacingAndGlyphs">Nov</text>
<text transform="translate(1144.98,364.6) rotate(-90)" text-anchor="end" font-size="12.95" textLength="23.65" lengthAdjust="spacingAndGlyphs">Dec</text>
<text transform="translate(1159.85,368.4) rotate(-90)" text-anchor="end" font-size="12.95" font-weight="bold" textLength="34.01" lengthAdjust="spacingAndGlyphs">2025</text>
<text transform="translate(1174.71,364.6) rotate(-90)" text-anchor="end" font-size="12.95" textLength="21.64" lengthAdjust="spacingAndGlyphs">Feb</text>
<text transform="translate(1188.14,364.6) rotate(-90)" text-anchor="end" font-size="12.95" textLength="23.06" lengthAdjust="spacingAndGlyphs">Mar</text>
<text transform="translate(1203,364.6) rotate(-90)" text-anchor="end" font-size="12.95" textLength="21.14" lengthAdjust="spacingAndGlyphs">Apr</text>
<text transform="translate(1217.38,364.6) rotate(-90)" text-anchor="end" font-size="12.95" textLength="25.26" lengthAdjust="spacingAndGlyphs">May</text>
<text transform="translate(1232.25,362.8) rotate(-90)" text-anchor="end" font-size="12.95" textLength="19.09" lengthAdjust="spacingAndGlyphs">Jun</text>
<text transform="translate(1246.63,362.8) rotate(-90)" text-anchor="end" font-size="12.95" textLength="14.74" lengthAdjust="spacingAndGlyphs">Jul</text>
<text transform="translate(1261.49,364.6) rotate(-90)" text-anchor="end" font-size="12.95" textLength="23.86" lengthAdjust="spacingAndGlyphs">Aug</text>
<text transform="translate(1276.36,364.6) rotate(-90)" text-anchor="end" font-size="12.95" textLength="23.03" lengthAdjust="spacingAndGlyphs">Sep</text>
<text transform="translate(1290.74,364.6) rotate(-90)" text-anchor="end" font-size="12.95" textLength="21.13" lengthAdjust="spacingAndGlyphs">Oct</text>
<text transform="translate(1305.6,364.6) rotate(-90)" text-anchor="end" font-size="12.95" textLength="23.85" lengthAdjust="spacingAndGlyphs">Nov</text>
<text transform="translate(1319.99,364.6) rotate(-90)" text-anchor="end" font-size="12.95" textLength="23.65" lengthAdjust="spacingAndGlyphs">Dec</text>
</svg>
</body></html>
